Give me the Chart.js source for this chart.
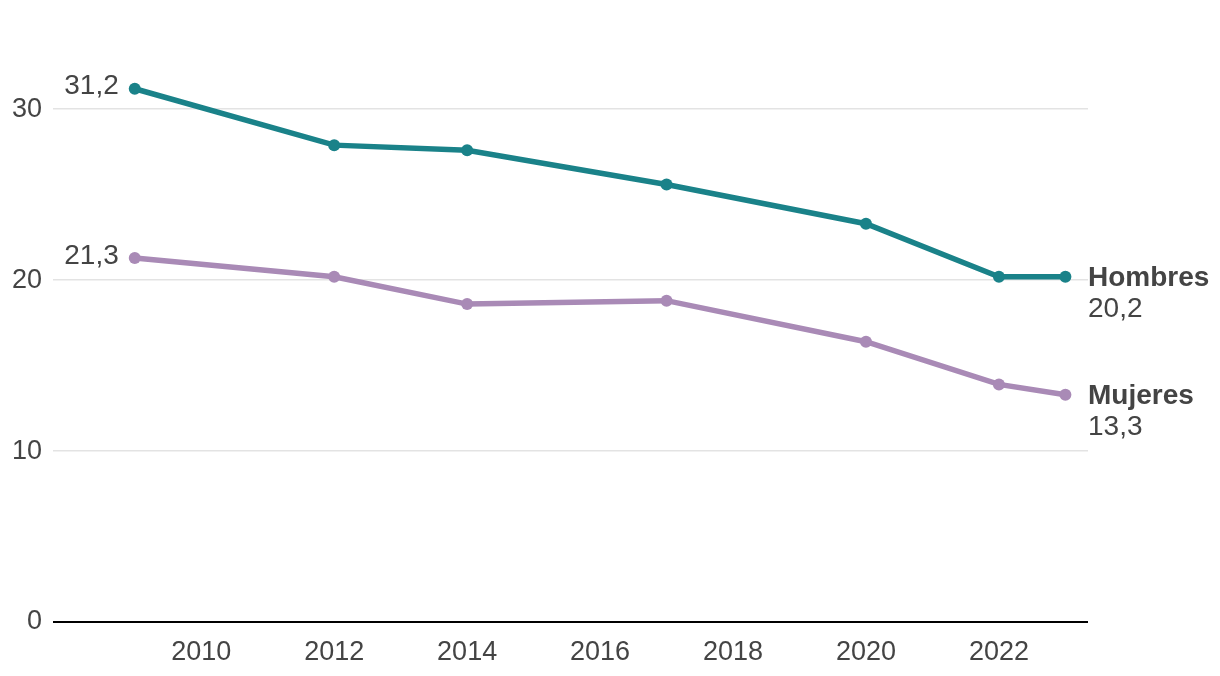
<!DOCTYPE html>
<html>
<head>
<meta charset="utf-8">
<script src="https://cdn.jsdelivr.net/npm/chart.js@4/dist/chart.umd.min.js"></script>
<style>
  html, body { margin: 0; padding: 0; background: #fff; }
  #wrap { width: 1220px; height: 676px; }
</style>
</head>
<body>
<div id="wrap"><canvas id="chart" width="1220" height="676"></canvas></div>
<script>
// données
const years = [2009, 2012, 2014, 2017, 2020, 2022, 2023];
const hombres = [31.2, 27.9, 27.6, 25.6, 23.3, 20.2, 20.2];
const mujeres = [21.3, 20.2, 18.6, 18.8, 16.4, 13.9, 13.3];
const yTicks = [0, 10, 20, 30];
const xTicks = [2010, 2012, 2014, 2016, 2018, 2020, 2022];
const seriesNames = ['Hombres', 'Mujeres'];

const teal = '#1a8289';
const purple = '#a98ab6';
const textColor = '#444444';
const family = '"Liberation Sans", Arial, sans-serif';

Chart.defaults.font.family = family;
Chart.defaults.font.size = 27;
Chart.defaults.color = textColor;

function fmt(v) {
  return v.toFixed(1).replace('.', ',');
}

// étiquettes au début et à la fin des lignes
const labelPlugin = {
  id: 'labels',
  afterDatasetsDraw(chart) {
    const ctx = chart.ctx;
    const x = chart.scales.x;
    const y = chart.scales.y;
    ctx.save();
    ctx.fillStyle = textColor;
    ctx.textBaseline = 'middle';
    chart.data.datasets.forEach((ds, i) => {
      const first = ds.data[0];
      const last = ds.data[ds.data.length - 1];
      // valeur de départ
      ctx.font = '28px ' + family;
      ctx.textAlign = 'right';
      ctx.fillText(fmt(first.y), x.getPixelForValue(first.x) - 16, y.getPixelForValue(first.y) - 2);
      // nom + valeur finale
      const ly = y.getPixelForValue(last.y);
      ctx.textAlign = 'left';
      ctx.font = 'bold 28px ' + family;
      ctx.fillText(seriesNames[i], chart.chartArea.right, ly + 2);
      ctx.font = '28px ' + family;
      ctx.fillText(fmt(last.y), chart.chartArea.right, ly + 33);
    });
    ctx.restore();
  }
};

function toPoints(values) {
  return values.map((v, i) => ({ x: years[i], y: v }));
}

new Chart(document.getElementById('chart'), {
  type: 'line',
  data: {
    datasets: [
      {
        label: seriesNames[0],
        data: toPoints(hombres),
        borderColor: teal,
        backgroundColor: teal,
        borderWidth: 5.5,
        pointRadius: 6,
        pointBorderWidth: 0,
        pointHoverRadius: 6
      },
      {
        label: seriesNames[1],
        data: toPoints(mujeres),
        borderColor: purple,
        backgroundColor: purple,
        borderWidth: 5.5,
        pointRadius: 6,
        pointBorderWidth: 0,
        pointHoverRadius: 6
      }
    ]
  },
  options: {
    responsive: false,
    animation: false,
    layout: { padding: { top: 0, right: 132, bottom: 0, left: 0 } },
    plugins: {
      legend: { display: false },
      tooltip: { enabled: false }
    },
    scales: {
      x: {
        type: 'linear',
        min: 2007.77,
        max: 2023.34,
        afterBuildTicks: scale => { scale.ticks = xTicks.map(v => ({ value: v })); },
        afterFit: scale => { scale.height = 54; },
        ticks: {
          padding: 6,
          maxRotation: 0,
          callback: v => String(v)
        },
        grid: { display: false },
        border: { display: false }
      },
      y: {
        min: 0,
        max: 34.8,
        afterBuildTicks: scale => { scale.ticks = yTicks.map(v => ({ value: v })); },
        afterFit: scale => { scale.width = 53; },
        ticks: {
          padding: 11,
          callback: v => String(v)
        },
        grid: {
          drawTicks: false,
          color: c => c.tick && c.tick.value === 0 ? '#000000' : '#e3e3e3',
          lineWidth: c => c.tick && c.tick.value === 0 ? 2 : 1.5
        },
        border: { display: false }
      }
    }
  },
  plugins: [labelPlugin]
});
</script>
</body>
</html>
